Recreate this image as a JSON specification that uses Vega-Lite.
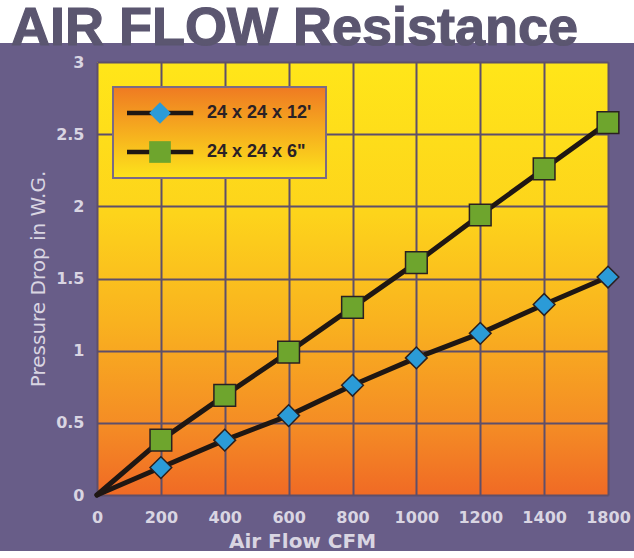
{
  "$schema": "https://vega.github.io/schema/vega-lite/v6.json",
  "padding": 0,
  "background": "#685d88",
  "spacing": -2,
  "config": {"font": "DejaVu Sans"},
  "vconcat": [
    {
      "width": 634,
      "height": 43,
      "view": {"fill": "#ffffff", "stroke": null},
      "data": {"values": [{"t": "AIR FLOW Resistance"}]},
      "mark": {"type": "text", "align": "left", "baseline": "alphabetic", "dx": -306, "dy": 23.5, "font": "Liberation Sans", "fontSize": 54, "fontWeight": "bold", "fill": "#5b5670", "stroke": "#5b5670", "strokeWidth": 1.2},
      "encoding": {"text": {"field": "t"}}
    },
    {
      "spacing": 27,
      "hconcat": [
        {
          "width": 1,
          "height": 1,
          "view": {"stroke": null},
          "data": {"values": [{"t": ""}]},
          "mark": {"type": "text", "fontSize": 1},
          "encoding": {"text": {"field": "t"}}
        },
        {
          "width": 511,
          "height": 433,
          "view": {
            "stroke": null,
            "fill": {
              "gradient": "linear", "x1": 0, "y1": 0, "x2": 0, "y2": 1,
              "stops": [
                {"offset": 0, "color": "#ffe619"},
                {"offset": 0.35, "color": "#fdd41b"},
                {"offset": 0.6, "color": "#f9b21f"},
                {"offset": 0.85, "color": "#f48a25"},
                {"offset": 1, "color": "#f06a25"}
              ]
            }
          },
          "data": {
            "values": [
              {"cfm": 0, "series": "24 x 24 x 12'", "pd": 0},
              {"cfm": 200, "series": "24 x 24 x 12'", "pd": 0.19},
              {"cfm": 400, "series": "24 x 24 x 12'", "pd": 0.38},
              {"cfm": 600, "series": "24 x 24 x 12'", "pd": 0.55},
              {"cfm": 800, "series": "24 x 24 x 12'", "pd": 0.76},
              {"cfm": 1000, "series": "24 x 24 x 12'", "pd": 0.95},
              {"cfm": 1200, "series": "24 x 24 x 12'", "pd": 1.12},
              {"cfm": 1400, "series": "24 x 24 x 12'", "pd": 1.32},
              {"cfm": 1800, "series": "24 x 24 x 12'", "pd": 1.51},
              {"cfm": 0, "series": "24 x 24 x 6\"", "pd": 0},
              {"cfm": 200, "series": "24 x 24 x 6\"", "pd": 0.38},
              {"cfm": 400, "series": "24 x 24 x 6\"", "pd": 0.69},
              {"cfm": 600, "series": "24 x 24 x 6\"", "pd": 0.99},
              {"cfm": 800, "series": "24 x 24 x 6\"", "pd": 1.3},
              {"cfm": 1000, "series": "24 x 24 x 6\"", "pd": 1.61},
              {"cfm": 1200, "series": "24 x 24 x 6\"", "pd": 1.94},
              {"cfm": 1400, "series": "24 x 24 x 6\"", "pd": 2.26},
              {"cfm": 1800, "series": "24 x 24 x 6\"", "pd": 2.58}
            ]
          },
          "encoding": {
            "x": {
              "field": "cfm", "type": "ordinal",
              "scale": {"type": "point", "padding": 0},
              "axis": {
                "title": "Air Flow CFM", "labelAngle": 0,
                "labelFont": "DejaVu Sans", "labelFontSize": 16, "labelFontWeight": "bold", "labelColor": "#d9d5e2",
                "labelPadding": 14, "labelOverlap": false, "ticks": false, "domain": false,
                "grid": true, "gridColor": "#5e4f6a", "gridWidth": 2,
                "titleFont": "DejaVu Sans", "titleFontSize": 20, "titleFontWeight": "bold", "titleColor": "#d9d5e2",
                "titlePadding": 6, "titleX": 205
              }
            },
            "y": {
              "field": "pd", "type": "quantitative",
              "scale": {"domain": [0, 3]},
              "axis": {
                "title": "Pressure Drop in W.G.", "values": [0, 0.5, 1, 1.5, 2, 2.5, 3], "format": "~g",
                "labelFont": "DejaVu Sans", "labelFontSize": 16, "labelFontWeight": "bold", "labelColor": "#d9d5e2",
                "labelPadding": 13, "ticks": false, "domain": false,
                "grid": true, "gridColor": "#5e4f6a", "gridWidth": 2,
                "titleFont": "DejaVu Sans", "titleFontSize": 20, "titleFontWeight": "normal", "titleColor": "#d9d5e2",
                "titlePadding": 7
              }
            }
          },
          "layer": [
            {
              "mark": {"type": "line", "strokeWidth": 5, "strokeJoin": "round", "strokeCap": "round"},
              "encoding": {
                "stroke": {
                  "field": "series", "type": "nominal",
                  "scale": {"domain": ["24 x 24 x 12'", "24 x 24 x 6\""], "range": ["#1f1713", "#1f1713"]},
                  "legend": {
                    "orient": "none", "legendX": 113, "legendY": 87, "title": null,
                    "symbolType": "M-3.5,0H3.5", "symbolSize": 361, "symbolStrokeWidth": 4.5, "symbolStrokeColor": "#1f1713",
                    "clipHeight": 24, "rowPadding": 15, "symbolOffset": 21, "labelOffset": 35,
                    "labelFont": "Liberation Sans", "labelFontSize": 18, "labelFontWeight": "bold", "labelColor": "#2b2126",
                    "padding": 14, "strokeColor": "#7b6a85", "fillColor": "#f6a020", "zindex": 1,
                    "encode": {
                      "legend": {
                        "update": {
                          "fill": {"value": {"gradient": "linear", "x1": 0, "y1": 0, "x2": 0, "y2": 1,
                            "stops": [{"offset": 0, "color": "#ef7a22"}, {"offset": 1, "color": "#fde31b"}]}},
                          "strokeWidth": {"value": 2}
                        }
                      }
                    }
                  }
                }
              }
            },
            {
              "transform": [{"filter": "datum.cfm > 0"}],
              "mark": {"type": "point", "filled": true, "stroke": "#2a2020", "strokeWidth": 1.5, "size": 470, "opacity": 1},
              "encoding": {
                "fill": {
                  "field": "series", "type": "nominal",
                  "scale": {"range": ["#2b9bd7", "#6ea52d"]},
                  "legend": {
                    "orient": "none", "legendX": 148, "legendY": 101, "title": null,
                    "clipHeight": 24, "rowPadding": 15, "symbolSize": 470,
                    "symbolStrokeColor": "#2a2020", "symbolStrokeWidth": 1.5,
                    "labelExpr": "''", "labelFontSize": 18, "padding": 0, "zindex": 2
                  }
                },
                "shape": {
                  "field": "series", "type": "nominal",
                  "scale": {"range": ["diamond", "square"]},
                  "legend": {
                    "orient": "none", "legendX": 148, "legendY": 101, "title": null,
                    "clipHeight": 24, "rowPadding": 15, "symbolSize": 470,
                    "symbolStrokeColor": "#2a2020", "symbolStrokeWidth": 1.5,
                    "labelExpr": "''", "labelFontSize": 18, "padding": 0, "zindex": 2
                  }
                }
              }
            }
          ]
        }
      ]
    }
  ]
}
